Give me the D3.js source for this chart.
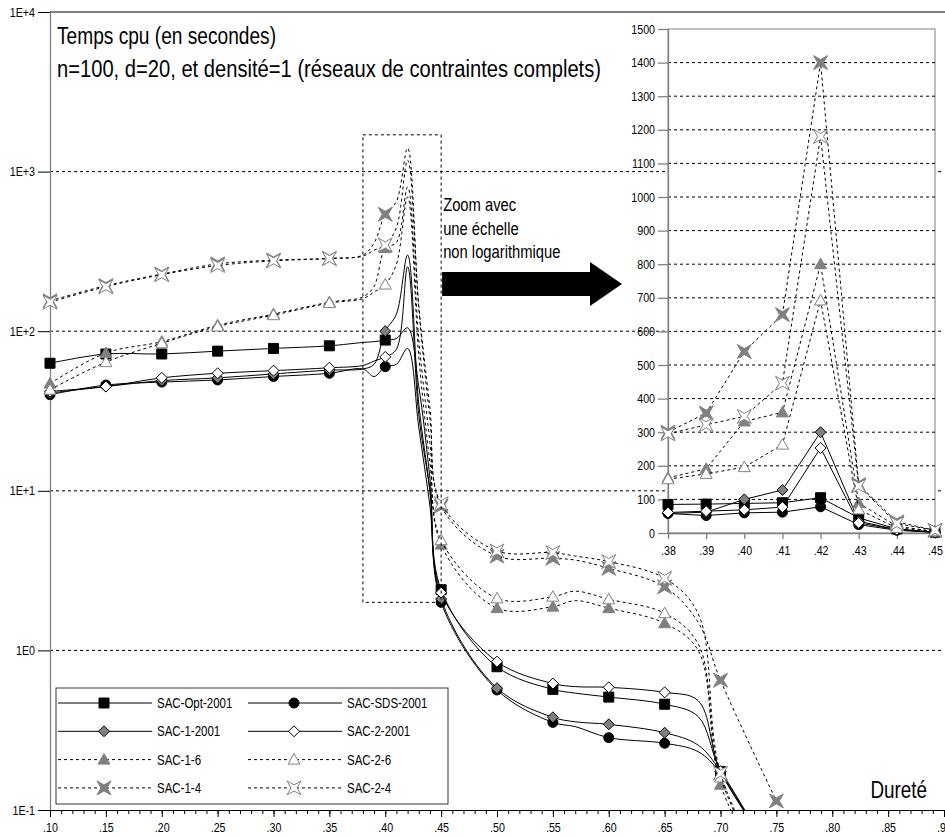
<!DOCTYPE html>
<html>
<head>
<meta charset="utf-8">
<script src="https://cdn.jsdelivr.net/npm/d3@7"></script>
<style>
  body { margin: 0; background: #fff; }
  svg { display: block; font-family: "Liberation Sans", Arial, sans-serif; }
</style>
</head>
<body>
<svg width="945" height="836"></svg>
<script>
'use strict';

// Dureté (hardness) values shared by every series
const hardness = [.10, .15, .20, .25, .30, .35, .38, .39, .40, .41, .42, .43, .44, .45, .50, .55, .57, .60, .65, .68, .70, .75];

// cpu time in seconds, one value per hardness
const sacOpt2001 = [63, 72, 72, 75, 78, 81, 85, 86, 88, 90, 105, 45, 12, 2.4, 0.79, 0.57, 0.54, 0.51, 0.46, 0.385, 0.174, 0.05];
const sacSds2001 = [40, 46, 48, 49.5, 52, 54.5, 58, 52, 60, 62, 78, 25, 8, 2.0, 0.565, 0.354, 0.333, 0.284, 0.262, 0.232, 0.17, 0.045];
const sac1_2001 = [41, 45, 49, 51, 54, 57, 58, 62, 100, 128, 300, 35, 10, 2.1, 0.58, 0.381, 0.357, 0.344, 0.305, 0.255, 0.175, 0.045];
const sac2_2001 = [42, 45, 51, 54.5, 56.6, 59, 61, 65, 69, 77, 253, 30, 10, 2.3, 0.85, 0.62, 0.593, 0.587, 0.546, 0.484, 0.175, 0.05];
const sac1_6 = [47, 73, 86, 109, 128, 152, 164, 191, 332, 359, 800, 89, 20, 4.6, 1.84, 1.88, 2.05, 1.84, 1.48, 1.0, 0.144, 0.03];
const sac2_6 = [43, 64, 84, 107, 126, 150, 160, 176, 196, 263, 692, 70, 15, 4.9, 2.12, 2.17, 2.35, 2.09, 1.71, 1.1, 0.16, 0.03];
const sac1_4 = [155, 193, 228, 264, 279, 286, 300, 357, 540, 650, 1400, 144, 33, 8.0, 3.9, 3.78, 3.68, 3.27, 2.5, 1.5, 0.65, 0.114];
const sac2_4 = [152, 190, 226, 258, 276, 285, 295, 322, 347, 446, 1180, 140, 28, 8.3, 4.2, 4.1, 3.9, 3.6, 2.83, 1.7, 0.17, 0.03];

const seriesNames = ["SAC-Opt-2001", "SAC-SDS-2001", "SAC-1-2001", "SAC-2-2001", "SAC-1-6", "SAC-2-6", "SAC-1-4", "SAC-2-4"];
const seriesValues = [sacOpt2001, sacSds2001, sac1_2001, sac2_2001, sac1_6, sac2_6, sac1_4, sac2_4];

// tick labels
const yTickValues = [0.1, 1, 10, 100, 1000, 10000];
const yTickLabels = ["1E-1", "1E0", "1E+1", "1E+2", "1E+3", "1E+4"];
const xTickValues = [.10, .15, .20, .25, .30, .35, .40, .45, .50, .55, .60, .65, .70, .75, .80, .85, .90];
const xTickLabels = [".10", ".15", ".20", ".25", ".30", ".35", ".40", ".45", ".50", ".55", ".60", ".65", ".70", ".75", ".80", ".85", ".90"];
const zoomXTicks = [.38, .39, .40, .41, .42, .43, .44, .45];
const zoomXLabels = [".38", ".39", ".40", ".41", ".42", ".43", ".44", ".45"];
const zoomYTicks = [0, 100, 200, 300, 400, 500, 600, 700, 800, 900, 1000, 1100, 1200, 1300, 1400, 1500];

const GRAY = "#808080";
const NARROW = 0.82;   // no Arial Narrow here, so squeeze Liberation Sans
const PLOT = { left: 50, right: 944, top: 12, bottom: 810 };
const INSET = { left: 668, right: 935, top: 29, bottom: 533 };

// how each series looks: marker shape, fill, stroke, dashed line
const STYLES = [
    { shape: "square", fill: "#000", stroke: "#000", dash: null },
    { shape: "circle", fill: "#000", stroke: "#000", dash: null },
    { shape: "diamond", fill: GRAY, stroke: "#000", dash: null },
    { shape: "diamond", fill: "#fff", stroke: "#000", dash: null },
    { shape: "triangle", fill: GRAY, stroke: GRAY, dash: "3,3" },
    { shape: "triangle", fill: "#fff", stroke: GRAY, dash: "3,3" },
    { shape: "star", fill: GRAY, stroke: GRAY, dash: "3,3" },
    { shape: "star", fill: "#fff", stroke: GRAY, dash: "3,3" }
];

const svg = d3.select("svg");

const x = d3.scaleLinear().domain([0.1, 0.9]).range([PLOT.left, PLOT.right]);
const y = d3.scaleLog().domain([0.1, 10000]).range([PLOT.bottom, PLOT.top]);
const zx = d3.scaleLinear().domain([0.38, 0.45]).range([INSET.left, INSET.right]);
const zy = d3.scaleLinear().domain([0, 1500]).range([INSET.bottom, INSET.top]);

/**
 * Path of a marker centred on 0,0
 */
function markerPath(shape) {
    switch (shape) {
        case "square": return "M-5,-5H5V5H-5Z";
        case "circle": return "M5,0A5,5 0 1,1 -5,0A5,5 0 1,1 5,0Z";
        case "diamond": return "M0,-5.5L5.5,0L0,5.5L-5.5,0Z";
        case "triangle": return "M0,-6L6,4.5L-6,4.5Z";
        default: return "M-7,-7L0,-3L7,-7L3,0L7,7L0,3L-7,7L-3,0Z";
    }
}

function seriesPoints(values) {
    return values.map((v, i) => ({ h: hardness[i], v: v }));
}

/**
 * Gridlines, border and axes of the log chart
 */
function drawMainFrame() {
    svg.append("g").selectAll("line")
        .data([1, 10, 100, 1000])
        .enter().append("line")
        .attr("x1", PLOT.left).attr("x2", PLOT.right)
        .attr("y1", d => y(d)).attr("y2", d => y(d))
        .attr("stroke", "#000").attr("stroke-dasharray", "3,3");

    svg.append("line")
        .attr("x1", PLOT.left).attr("x2", 945)
        .attr("y1", PLOT.top).attr("y2", PLOT.top)
        .attr("stroke", "#000");

    const yAxis = svg.append("g")
        .attr("transform", "translate(" + PLOT.left + ",0)")
        .call(d3.axisLeft(y).tickValues(yTickValues)
            .tickFormat((d, i) => yTickLabels[i]).tickSize(12).tickSizeOuter(0).tickPadding(3));
    yAxis.select(".domain").attr("stroke", GRAY).attr("stroke-width", 1.3);
    yAxis.selectAll("text").attr("font-size", 13).attr("font-family", null);

    const minor = svg.append("g")
        .attr("transform", "translate(0," + PLOT.bottom + ")")
        .call(d3.axisBottom(x).ticks(80).tickFormat("").tickSize(4).tickSizeOuter(0));
    minor.select(".domain").attr("stroke", "#000");

    const xAxis = svg.append("g")
        .attr("transform", "translate(0," + PLOT.bottom + ")")
        .call(d3.axisBottom(x).tickValues(xTickValues)
            .tickFormat((d, i) => xTickLabels[i]).tickSize(7).tickSizeOuter(0).tickPadding(6));
    xAxis.select(".domain").remove();
    xAxis.selectAll("text").attr("font-size", 13).attr("font-family", null);
}

/**
 * One series in the log chart: smoothed line, markers every .05
 */
function drawMainSeries(values, style, clipId) {
    const pts = seriesPoints(values);
    const line = d3.line()
        .x(d => x(d.h)).y(d => y(d.v))
        .curve(d3.curveCatmullRom.alpha(0.5));

    svg.append("path")
        .datum(pts)
        .attr("clip-path", "url(#" + clipId + ")")
        .attr("d", line)
        .attr("fill", "none")
        .attr("stroke", "#000")
        .attr("stroke-width", 1)
        .attr("stroke-dasharray", style.dash);

    svg.append("g").selectAll("path")
        .data(pts.filter(d => Math.round(d.h * 100) % 5 === 0 && d.v >= 0.1))
        .enter().append("path")
        .attr("transform", d => "translate(" + x(d.h) + "," + y(d.v) + ")")
        .attr("d", markerPath(style.shape))
        .attr("fill", style.fill)
        .attr("stroke", style.stroke);
}

/**
 * Dotted box round the peak, the text and the big arrow
 */
function drawZoomHint() {
    svg.append("rect")
        .attr("x", x(0.38)).attr("y", y(1700))
        .attr("width", x(0.45) - x(0.38)).attr("height", y(2) - y(1700))
        .attr("fill", "none").attr("stroke", "#000").attr("stroke-dasharray", "3,3");

    svg.append("g").selectAll("text")
        .data(["Zoom avec", "une échelle", "non logarithmique"])
        .enter().append("text")
        .attr("x", x(0.45) + 2)
        .attr("y", (d, i) => 211 + i * 23.5)
        .attr("font-size", 18)
        .text(d => d);

    const x0 = x(0.45) + 1, tip = INSET.left - 46, mid = 284;
    svg.append("path")
        .attr("d", "M" + x0 + "," + (mid - 12) + "H" + (tip - 32) + "V" + (mid - 22) +
            "L" + tip + "," + mid + "L" + (tip - 32) + "," + (mid + 22) + "V" + (mid + 12) + "H" + x0 + "Z")
        .attr("fill", "#000");
}

/**
 * Linear zoom of .38 - .45
 */
function drawInset() {
    svg.append("rect")
        .attr("x", INSET.left).attr("y", INSET.top)
        .attr("width", INSET.right - INSET.left).attr("height", INSET.bottom - INSET.top)
        .attr("fill", "#fff").attr("stroke", GRAY);

    svg.append("g").selectAll("line")
        .data(zoomYTicks.slice(1, -1))
        .enter().append("line")
        .attr("x1", INSET.left).attr("x2", INSET.right)
        .attr("y1", d => zy(d)).attr("y2", d => zy(d))
        .attr("stroke", "#000").attr("stroke-dasharray", "3,3");

    const ya = svg.append("g")
        .attr("transform", "translate(" + INSET.left + ",0)")
        .call(d3.axisLeft(zy).tickValues(zoomYTicks).tickFormat(d3.format("d"))
            .tickSize(10).tickSizeOuter(0).tickPadding(3));
    ya.selectAll("line, path").attr("stroke", GRAY).attr("stroke-width", 1.3);
    ya.selectAll("text").attr("font-size", 13).attr("font-family", null);

    const xa = svg.append("g")
        .attr("transform", "translate(0," + INSET.bottom + ")")
        .call(d3.axisBottom(zx).tickValues(zoomXTicks)
            .tickFormat((d, i) => zoomXLabels[i]).tickSize(6).tickSizeOuter(0).tickPadding(7));
    xa.selectAll("line, path").attr("stroke", GRAY).attr("stroke-width", 1.3);
    xa.selectAll("text").attr("font-size", 13).attr("font-family", null);

    const line = d3.line().x(d => zx(d.h)).y(d => zy(d.v));

    seriesValues.forEach((values, i) => {
        const style = STYLES[i];
        const pts = seriesPoints(values).filter(d => d.h >= 0.375 && d.h <= 0.455);
        svg.append("path")
            .datum(pts)
            .attr("d", line)
            .attr("fill", "none")
            .attr("stroke", "#000")
            .attr("stroke-dasharray", style.dash);
        svg.append("g").selectAll("path")
            .data(pts)
            .enter().append("path")
            .attr("transform", d => "translate(" + zx(d.h) + "," + zy(d.v) + ")")
            .attr("d", markerPath(style.shape))
            .attr("fill", style.fill)
            .attr("stroke", style.stroke);
    });
}

function drawLegend() {
    svg.append("rect")
        .attr("x", 56).attr("y", 688).attr("width", 392).attr("height", 116)
        .attr("fill", "#fff").attr("stroke", "#333");

    seriesNames.forEach((name, i) => {
        const style = STYLES[i];
        const lx = i % 2 === 0 ? 58 : 248;
        const ly = 703 + Math.floor(i / 2) * 28.3;
        const g = svg.append("g").attr("transform", "translate(" + lx + "," + ly + ")");
        g.append("line")
            .attr("x1", 0).attr("x2", 94)
            .attr("stroke", "#000").attr("stroke-dasharray", style.dash);
        g.append("path")
            .attr("transform", "translate(46,0)")
            .attr("d", markerPath(style.shape))
            .attr("fill", style.fill).attr("stroke", style.stroke);
        g.append("text")
            .attr("x", 99).attr("y", 5)
            .attr("font-size", 14)
            .text(name);
    });
}

function drawTexts() {
    svg.append("text").attr("x", 57).attr("y", 44).attr("font-size", 23)
        .attr("textLength", 219).attr("lengthAdjust", "spacingAndGlyphs")
        .text("Temps cpu (en secondes)");
    svg.append("text").attr("x", 57).attr("y", 77).attr("font-size", 23)
        .attr("textLength", 544).attr("lengthAdjust", "spacingAndGlyphs")
        .text("n=100, d=20, et densité=1 (réseaux de contraintes complets)");
    svg.append("text").attr("x", 927).attr("y", 798).attr("font-size", 23)
        .attr("text-anchor", "end").text("Dureté");
}

/**
 * Squeeze every text that has no width yet, like a narrow font
 */
function narrowTexts() {
    svg.selectAll("text").each(function () {
        const t = d3.select(this);
        if (t.attr("textLength")) return;
        const w = this.getComputedTextLength();
        t.attr("textLength", w * NARROW).attr("lengthAdjust", "spacingAndGlyphs");
    });
}

/**
 * Main entry point
 */
svg.append("defs").append("clipPath").attr("id", "plotClip")
    .append("rect")
    .attr("x", 0).attr("y", PLOT.top)
    .attr("width", 945).attr("height", PLOT.bottom - PLOT.top);

drawMainFrame();
seriesValues.forEach((values, i) => drawMainSeries(values, STYLES[i], "plotClip"));
drawZoomHint();
drawInset();
drawLegend();
drawTexts();
narrowTexts();
</script>
</body>
</html>
